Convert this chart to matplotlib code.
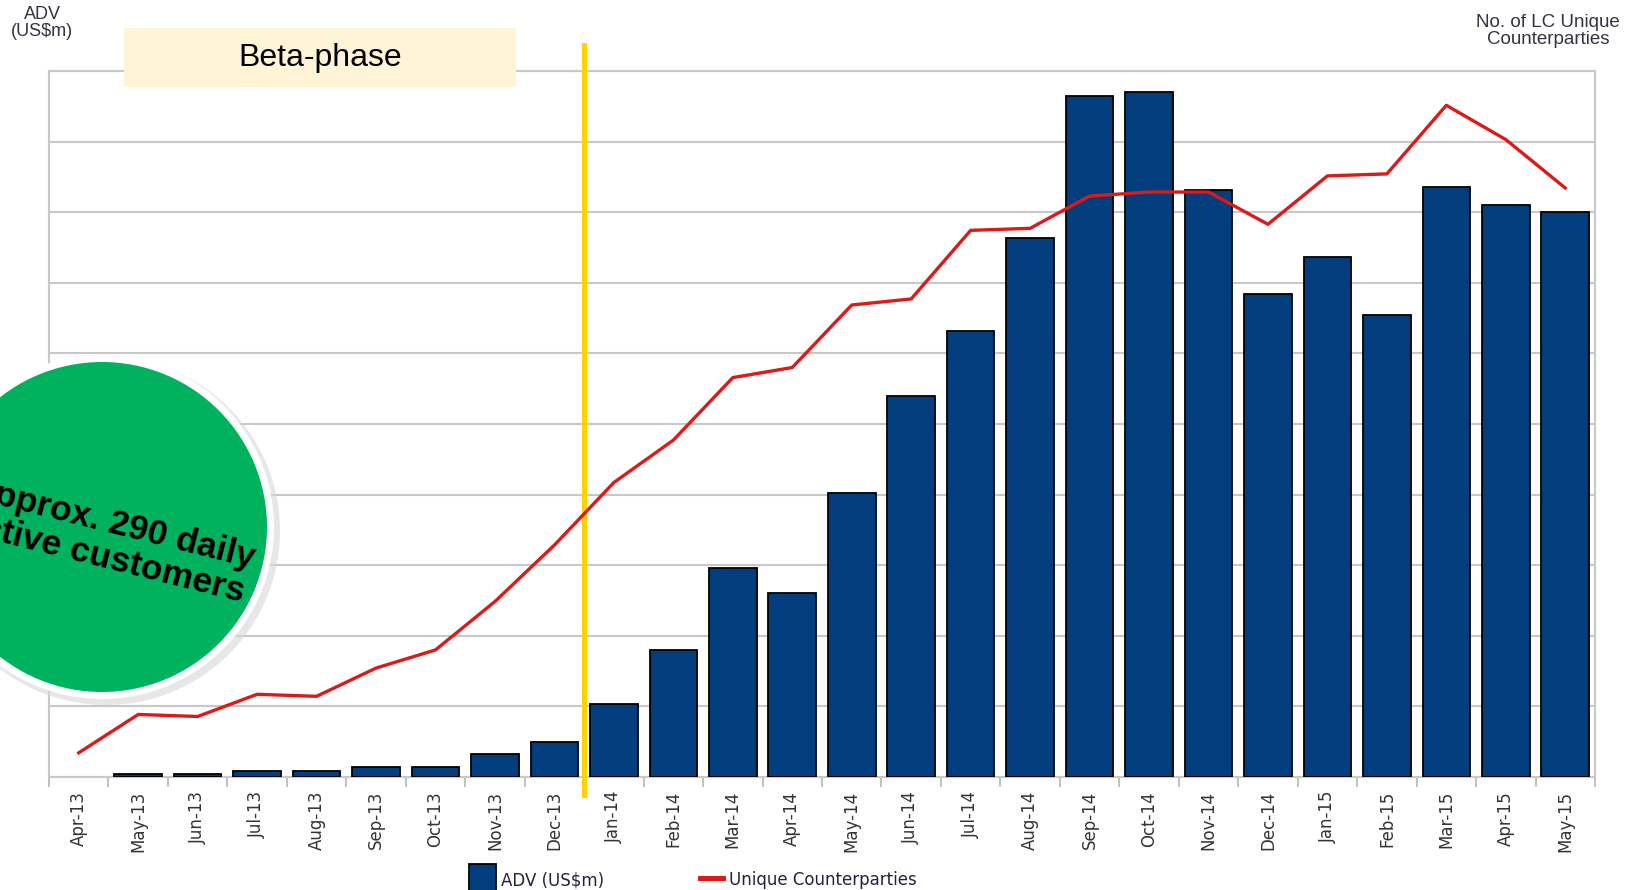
import matplotlib
matplotlib.use("Agg")
import matplotlib.pyplot as plt
from matplotlib.patches import Rectangle, Circle
import numpy as np

months = ["Apr-13", "May-13", "Jun-13", "Jul-13", "Aug-13", "Sep-13", "Oct-13", "Nov-13",
          "Dec-13", "Jan-14", "Feb-14", "Mar-14", "Apr-14", "May-14", "Jun-14", "Jul-14",
          "Aug-14", "Sep-14", "Oct-14", "Nov-14", "Dec-14", "Jan-15", "Feb-15", "Mar-15",
          "Apr-15", "May-15"]
adv = [0, 2, 2, 4, 4, 7, 7, 16, 25, 52, 90, 148, 130, 201, 270, 316, 382, 482, 485,
       416, 342, 368, 327, 418, 405, 400]
counterparties = [12, 31, 30, 41, 40, 54, 63, 87, 115, 146, 167, 198, 203, 234, 237, 271,
                  272, 288, 290, 290, 274, 298, 299, 333, 316, 292]
adv_max = 500
cp_max = 350
beta_end = 8.5  # boundary between Dec-13 and Jan-14

W, H = 1636, 890
fig = plt.figure(figsize=(W / 100, H / 100), dpi=100)
fig.patch.set_facecolor("white")

L, R, T, B = 49, 1595, 71, 777
ax = fig.add_axes([L / W, 1 - B / H, (R - L) / W, (B - T) / H])
x = np.arange(len(months))
grid_c = "#c8c8c8"
ax.set_xlim(-0.5, len(months) - 0.5)
ax.set_ylim(0, adv_max)
ax.set_yticks(np.linspace(0, adv_max, 11))
ax.yaxis.grid(True, color=grid_c, lw=1.5)
ax.set_axisbelow(True)
ax.tick_params(axis="y", length=0, labelleft=False)
for s in ax.spines.values():
    s.set_color(grid_c)
    s.set_linewidth(1.5)

edge_w = [1.3 if v > 0 else 0 for v in adv]
ax.bar(x, adv, width=0.8, color="#023E7D", edgecolor="black", linewidth=edge_w, zorder=3)

ax.set_xticks(x)
ax.set_xticklabels(months, rotation=90, fontsize=12, color="#333333", family="DejaVu Sans")
ax.tick_params(axis="x", which="major", length=0, pad=10)
ax.set_xticks(np.arange(-0.5, len(months)), minor=True)
ax.tick_params(axis="x", which="minor", length=7.5, width=1.3, color="#bbbbbb")

ax2 = ax.twinx()
ax2.set_ylim(0, cp_max)
ax2.axis("off")
ax2.plot(x, counterparties, color="#DD1A1A", lw=2.4, zorder=4, solid_joinstyle="round")

# Yellow beta-phase end line
ax.plot([beta_end, beta_end], [adv_max * 1.037, -adv_max * 0.025], color="#FFD200",
        lw=3.6, clip_on=False, zorder=6)

# overlay in pixel coordinates
ov = fig.add_axes([0, 0, 1, 1], zorder=10)
ov.set_xlim(0, W)
ov.set_ylim(H, 0)
ov.axis("off")
ov.patch.set_alpha(0)

ov.add_patch(Rectangle((124, 28), 392, 59, facecolor="#FFF5D6", edgecolor="none"))
ov.text(320, 58, "Beta-phase", fontsize=23, family="Liberation Sans", ha="center",
        va="center", color="black")

ov.text(42, 23, "ADV\n(US$m)", fontsize=13, family="Liberation Sans", ha="center",
        va="center", color="#333344", linespacing=1.0)
ov.text(1548, 31, "No. of LC Unique\nCounterparties", fontsize=13.5, family="Liberation Sans",
        ha="center", va="center", color="#333344", linespacing=1.0)

# Green bubble
ov.add_patch(Circle((106, 531), 174, facecolor="#d8d8d8", edgecolor="none", alpha=0.6))
ov.add_patch(Circle((102, 527), 172, facecolor="white", edgecolor="none"))
ov.add_patch(Circle((102, 527), 165, facecolor="#00B25D", edgecolor="none"))
ov.text(108, 541, "Approx. 290 daily\nactive customers", fontsize=25.5, fontweight="bold",
        family="Liberation Sans", ha="center", va="center", rotation=-14,
        rotation_mode="anchor", color="black", linespacing=1.1)

# Legend
ov.add_patch(Rectangle((469, 864), 27, 30, facecolor="#023E7D", edgecolor="black", lw=1.3))
ov.text(501, 880, "ADV (US$m)", fontsize=12, family="DejaVu Sans", va="center",
        ha="left", color="#222244")
ov.add_patch(Rectangle((698, 876), 28, 5, facecolor="#DD1A1A", edgecolor="none"))
ov.text(729, 880, "Unique Counterparties", fontsize=12, family="DejaVu Sans",
        va="center", ha="left", color="#222244")

fig.savefig("out.png", dpi=100)
